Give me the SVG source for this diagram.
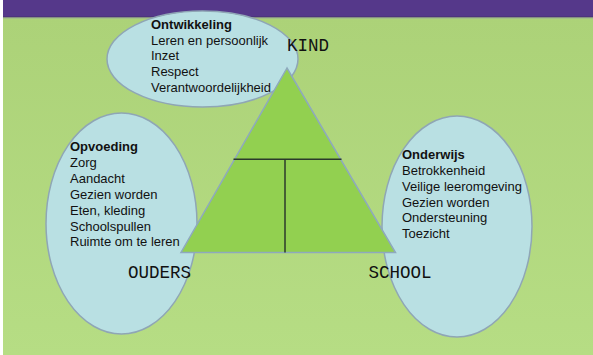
<svg xmlns="http://www.w3.org/2000/svg" width="593" height="355" viewBox="0 0 593 355">
  <defs>
    <linearGradient id="bg" x1="0" y1="0" x2="0" y2="1">
      <stop offset="0" stop-color="#acd278"/>
      <stop offset="1" stop-color="#b6dd84"/>
    </linearGradient>
  </defs>
  <style>
    .ell { fill: #b9e0e3; stroke: #8fa6b5; stroke-width: 1.5; }
    .txt { font-family: "Liberation Sans", Arial, sans-serif; font-size: 13px; fill: #111; }
    .b { font-weight: bold; }
    .lab { font-family: "Liberation Mono", "DejaVu Sans Mono", monospace; font-size: 17.5px; fill: #111; }
    .tri { fill: #92d050; stroke: #8ea9bd; stroke-width: 1.5; }
    .ln { stroke: #2b3a2b; stroke-width: 1.5; fill: none; }
  </style>
  <rect x="0" y="0" width="593" height="355" fill="#ffffff"/>
  <rect x="3" y="17" width="590" height="338" fill="url(#bg)"/>
  <rect x="3" y="0" width="590" height="17" fill="#55388a"/>
  <line x1="3" y1="17" x2="593" y2="17" stroke="#47306f" stroke-width="1"/>
  <line x1="3" y1="18" x2="593" y2="18" stroke="#9aa79a" stroke-width="0.8"/>

  <g id="ontwikkeling">
    <ellipse class="ell" cx="202.5" cy="59" rx="95.5" ry="48"/>
    <text class="txt" x="151" y="29"><tspan class="b">Ontwikkeling</tspan><tspan x="151" dy="15.7">Leren en persoonlijk</tspan><tspan x="151" dy="15.7">Inzet</tspan><tspan x="151" dy="15.7">Respect</tspan><tspan x="151" dy="15.7">Verantwoordelijkheid</tspan></text>
  </g>

  <g id="opvoeding">
    <ellipse class="ell" cx="121.5" cy="223.5" rx="75.5" ry="110.5"/>
    <text class="txt" x="70" y="151"><tspan class="b">Opvoeding</tspan><tspan x="70" dy="15.9">Zorg</tspan><tspan x="70" dy="15.9">Aandacht</tspan><tspan x="70" dy="15.9">Gezien worden</tspan><tspan x="70" dy="15.9">Eten, kleding</tspan><tspan x="70" dy="15.9">Schoolspullen</tspan><tspan x="70" dy="15.9">Ruimte om te leren</tspan></text>
  </g>

  <g id="onderwijs">
    <ellipse class="ell" cx="457" cy="226.5" rx="75" ry="110.5"/>
    <text class="txt" x="402" y="159"><tspan class="b">Onderwijs</tspan><tspan x="402" dy="15.85">Betrokkenheid</tspan><tspan x="402" dy="15.85">Veilige leeromgeving</tspan><tspan x="402" dy="15.85">Gezien worden</tspan><tspan x="402" dy="15.85">Ondersteuning</tspan><tspan x="402" dy="15.85">Toezicht</tspan></text>
  </g>

  <g id="driehoek">
    <polygon class="tri" points="287,68 181,252.5 395.5,252.5"/>
  </g>

  <g id="connectors">
    <line class="ln" x1="233.5" y1="159.3" x2="341.5" y2="159.3"/>
    <line class="ln" x1="285" y1="159.3" x2="285" y2="252.5"/>
  </g>

  <g id="kind"><text class="lab" x="287" y="51">KIND</text></g>
  <g id="ouders"><text class="lab" x="128" y="277.5">OUDERS</text></g>
  <g id="school"><text class="lab" x="368.5" y="277.5">SCHOOL</text></g>
</svg>
